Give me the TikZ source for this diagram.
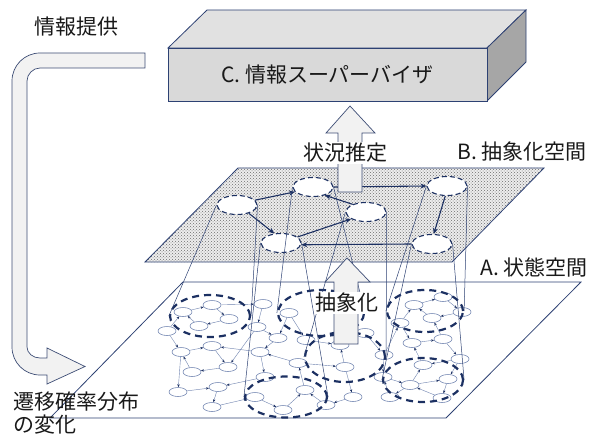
\documentclass[tikz,border=0pt]{standalone}
\usepackage{fontspec}
\setmainfont{Noto Sans CJK JP}
\usetikzlibrary{shapes.geometric,arrows.meta,patterns}
\definecolor{navy}{RGB}{45,65,115}
\definecolor{dnavy}{RGB}{28,48,98}
\definecolor{lgray}{RGB}{242,242,242}
\definecolor{sgray}{RGB}{110,130,175}
\definecolor{txt}{RGB}{25,25,25}
\definecolor{frontgray}{RGB}{217,217,217}
\definecolor{topgray}{RGB}{225,225,225}
\definecolor{sidegray}{RGB}{166,166,166}
\tikzset{
 lbl/.style={text=txt,font=\fontsize{21}{23}\selectfont,inner sep=1pt},
 cluster/.style={ellipse,draw=dnavy,line width=2.2pt,dash pattern=on 7pt off 5pt,inner sep=0pt},
 bnode/.style={ellipse,draw=dnavy,fill=white,line width=1.1pt,dash pattern=on 5pt off 3pt,minimum width=40pt,minimum height=19pt,inner sep=0pt},
 sn/.style={ellipse,draw=sgray,fill=white,line width=0.55pt,minimum width=18pt,minimum height=9pt,inner sep=0pt},
 se/.style={draw=sgray,line width=0.4pt,-{Stealth[length=3pt,width=2.4pt,color=dnavy]}},
 be/.style={draw=dnavy,line width=1.1pt,-{Stealth[length=6pt,width=5pt]}},
 proj/.style={draw=navy,line width=0.5pt},
 plane/.style={draw=navy,line width=0.8pt},
 bigarrow/.style={draw=navy!80!gray,fill=lgray,line width=0.7pt},
 boxline/.style={draw=navy,line width=0.8pt},
}
\begin{document}
\begin{tikzpicture}[x=1pt,y=-1pt]
\useasboundingbox (0,0) rectangle (593,438);

% ---------- Plane A ----------
\draw[plane,fill=white] (183,282) -- (581,282) -- (446,418) -- (50,418) -- cycle;

\foreach \n/\x/\y in {s1/212/305, s2/183/312, s3/229/319, s4/199/326, s5/167/331,
  s6/212/346, s7/181/352, s8/228/367, s9/192/372, s10/178/392, s11/218/387, s12/212/407,
  s13/263/304, s14/257/327, s15/260/352, s16/278/338, s17/289/313, s18/265/377,
  s19/255/397, s20/283/410, s21/298/363, s22/306/340, s23/340/345, s24/365/333,
  s25/384/355, s26/345/367, s27/383/377, s28/305/390, s29/353/397, s30/326/405, s31/390/397,
  s32/414/305, s33/443/297, s34/462/312, s35/432/318, s36/400/323, s37/443/339,
  s38/412/343, s39/460/359, s40/423/365, s41/410/385, s42/448/379, s43/442/398}
  \node[sn] (\n) at (\x,\y) {};

\foreach \a/\b in {s2/s1, s1/s3, s3/s4, s4/s2, s5/s2, s5/s7, s7/s6, s6/s8, s8/s9, s9/s7,
  s7/s10, s10/s11, s11/s12, s12/s19, s18/s11, s1/s13, s13/s14, s14/s16, s16/s15, s15/s6,
  s15/s18, s19/s20, s17/s16, s14/s8, s21/s15, s17/s22, s22/s23, s23/s24, s24/s25, s25/s27,
  s26/s23, s28/s21, s29/s30, s30/s28, s31/s27, s21/s26, s26/s29, s20/s28,
  s32/s33, s33/s34, s34/s35, s35/s32, s36/s32, s36/s38, s38/s37, s37/s35, s37/s39,
  s39/s40, s40/s38, s41/s42, s42/s43, s43/s41, s41/s40, s41/s31, s39/s42, s27/s41, s25/s36}
  \draw[se] (\a) -- (\b);

\node[cluster,minimum width=80pt,minimum height=42pt] (c1) at (210,316) {};
\node[cluster,minimum width=86pt,minimum height=46pt] (c2) at (321,313) {};
\node[cluster,minimum width=80pt,minimum height=50pt] (c3) at (345,357) {};
\node[cluster,minimum width=82pt,minimum height=41pt] (c4) at (286,397) {};
\node[cluster,minimum width=76pt,minimum height=42pt] (c5) at (425,311) {};
\node[cluster,minimum width=80pt,minimum height=44pt] (c6) at (423,380) {};

% ---------- Plane B ----------
\fill[gray!14] (238,168) -- (544,168) -- (452,262) -- (145,262) -- cycle;
\fill[pattern=crosshatch dots,pattern color=gray!85!black] (238,168) -- (544,168) -- (452,262) -- (145,262) -- cycle;
\draw[plane] (238,168) -- (544,168) -- (452,262) -- (145,262) -- cycle;

\node[bnode] (n1) at (237,205) {};
\node[bnode] (n2) at (313,187) {};
\node[bnode] (n3) at (366,212) {};
\node[bnode] (n4) at (281,243) {};
\node[bnode] (n5) at (447,186) {};
\node[bnode] (n6) at (432,244) {};

\draw[be] (n1.15) -- (n2.195);
\draw[be] (n1.-35) -- (n4.125);
\draw[be] (n4.20) -- (n3.205);
\draw[be] (n3.150) -- (n2.-35);
\draw[be] (n2.east) -- (n5.west);
\draw[be] (n5.-100) -- (n6.80);
\draw[be] (n6.west) -- (n4.-5);

% projection lines
\draw[proj] (n1.west) -- (c1.west);
\draw[proj] (n1.east) -- (c1.east);
\draw[proj] (n2.west) -- (c2.west);
\draw[proj] (n2.east) -- (c2.east);
\draw[proj] (n3.west) -- (c3.west);
\draw[proj] (n3.east) -- (c3.east);
\draw[proj] (n4.west) -- (c4.west);
\draw[proj] (n4.east) -- (c4.east);
\draw[proj] (n5.west) -- (c5.west);
\draw[proj] (n5.east) -- (c5.east);
\draw[proj] (n6.west) -- (c6.west);
\draw[proj] (n6.east) -- (c6.east);

% ---------- big arrows ----------
\draw[bigarrow] (334,344) -- (334,282) -- (325,282) -- (347,258) -- (370,282) -- (358,282) -- (358,344) -- cycle;
\draw[bigarrow] (338,192) -- (338,133) -- (326,133) -- (350,106) -- (375,133) -- (362,133) -- (362,192) -- cycle;

\draw[bigarrow] (145,53) -- (40,53) .. controls (24.5,53) and (12,65.5) .. (12,81)
  -- (12,347) .. controls (12,362.5) and (24.5,375) .. (40,375) -- (47,375) -- (47,384)
  -- (85,366.5) -- (47,348) -- (47,358) -- (40,358) .. controls (32.8,358) and (27,353) .. (27,347)
  -- (27,81) .. controls (27,74) and (33,68) .. (40,68) -- (145,68) -- cycle;

% ---------- Box C ----------
\draw[boxline,fill=topgray] (168,48) -- (207,10) -- (526,10) -- (487,48) -- cycle;
\draw[boxline,fill=sidegray] (487,48) -- (526,10) -- (526,62) -- (487,101) -- cycle;
\node[boxline,fill=frontgray,minimum width=319pt,minimum height=53pt,inner sep=0pt,
  text=txt,font=\fontsize{21}{23}\selectfont] (C) at (327.5,74.5) {C. 情報スーパーバイザ};

% ---------- labels ----------
\node[lbl] (tinfo) at (76,27) {情報提供};
\node[lbl,fill=white] (tjoukyou) at (345,153) {状況推定};
\node[lbl] (tB) at (522,152) {B. 抽象化空間};
\node[lbl] (tA) at (534,267) {A. 状態空間};
\node[lbl,fill=white] (tabs) at (347,303) {抽象化};
\node[lbl,anchor=west] (tsen1) at (12,402) {遷移確率分布};
\node[lbl,anchor=west] (tsen2) at (12,425) {の変化};
\end{tikzpicture}
\end{document}
